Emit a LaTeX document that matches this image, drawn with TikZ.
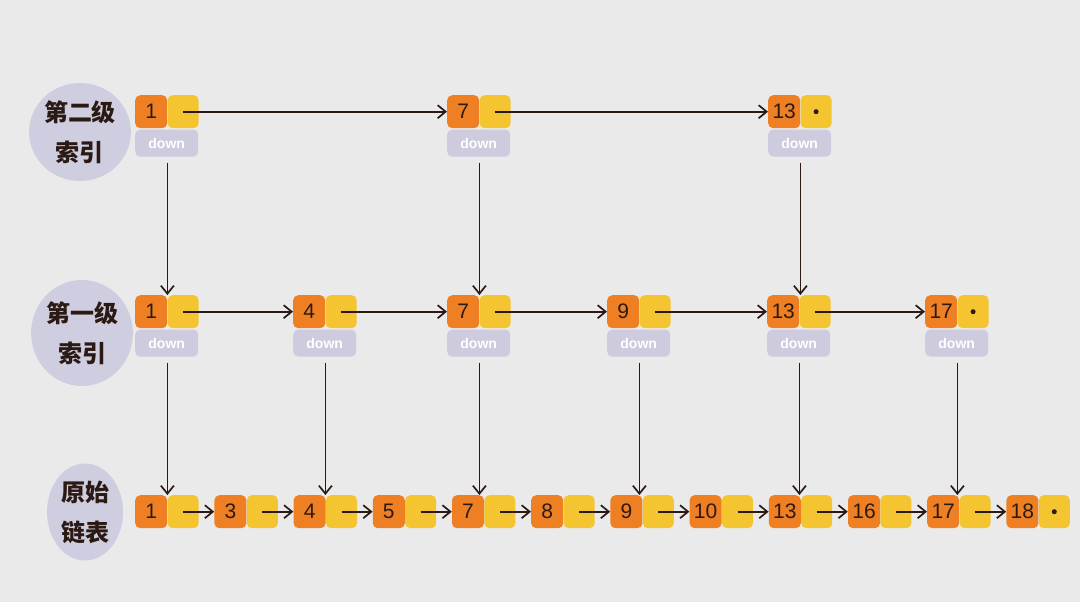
\documentclass[tikz,border=0pt]{standalone}
\usepackage{fontspec}
\setmainfont{Liberation Sans}
\newfontfamily\cjk{Noto Sans CJK SC}
\usetikzlibrary{positioning,shapes.geometric,arrows.meta}
\definecolor{bgc}{HTML}{EAEAEA}
\definecolor{keyc}{HTML}{EE7F22}
\definecolor{ptrc}{HTML}{F4C431}
\definecolor{downc}{HTML}{CDCBDD}
\definecolor{blobc}{HTML}{CFCEE0}
\definecolor{ink}{HTML}{2B1A14}
\tikzset{
  keybox/.style={rectangle,fill=keyc,rounded corners=5pt,minimum width=32pt,minimum height=33pt,
    inner sep=0pt,anchor=north west,text=ink,font=\fontsize{21}{21}\selectfont},
  ptrbox/.style={rectangle,fill=ptrc,rounded corners=5pt,minimum width=31pt,minimum height=33pt,inner sep=0pt},
  downbox/.style={rectangle,fill=downc,rounded corners=5pt,minimum width=63pt,minimum height=27pt,
    inner sep=0pt,anchor=north west,text=white,font=\bfseries\fontsize{14}{14}\selectfont},
  blob/.style={ellipse,fill=blobc,inner sep=0pt,align=center,text=ink,
    font=\cjk\bfseries\fontsize{24}{40}\selectfont},
  link/.style={draw=ink,line width=1.7pt,-{Straight Barb[length=8pt,width=13pt,line width=1.7pt]}}
}
% key box + pointer box
\newcommand{\lnode}[4]{%
  \node[keybox] (#1) at (#2,#3) {#4};
  \node[ptrbox,right=0pt of #1] (#1p) {};
}
% down box under a node
\newcommand{\dnode}[1]{\node[downbox] (#1d) at ([yshift=-1pt]#1.south west) {down};}
% null pointer
\newcommand{\nil}[1]{\fill[ink] (#1p.center) circle (2.5pt);}
\begin{document}
\begin{tikzpicture}[x=1pt,y=-1pt]
  \fill[bgc] (0,0) rectangle (1080,602);
  \useasboundingbox (0,0) rectangle (1080,602);

  % level labels
  \node[blob,minimum width=84pt,minimum height=98pt] (lab2) at (80,132) {第二级\\索引};
  \node[blob,minimum width=86pt,minimum height=106pt] (lab1) at (82,333) {第一级\\索引};
  \node[blob,minimum width=76pt,minimum height=97pt] (lab0) at (85,512) {原始\\链表};

  % second level index
  \lnode{t1}{135}{95}{1}   \dnode{t1}
  \lnode{t7}{447}{95}{7}   \dnode{t7}
  \lnode{t13}{768}{95}{13} \dnode{t13} \nil{t13}

  % first level index
  \foreach \nm/\px/\lb in {m1/135/1,m4/293/4,m7/447/7,m9/607/9,m13/767/13,m17/925/17}
    {\lnode{\nm}{\px}{295}{\lb} \dnode{\nm}}
  \nil{m17}

  % original list
  \foreach \lb [count=\i from 0] in {1,3,4,5,7,8,9,10,13,16,17,18}
    {\lnode{b\lb}{135+79.2*\i}{495}{\lb}}
  \nil{b18}

  % next pointers
  \draw[link] (t1p.center) -- (t7.west);
  \draw[link] (t7p.center) -- (t13.west);
  \foreach \a/\b in {m1/m4,m4/m7,m7/m9,m9/m13,m13/m17}
    {\draw[link] (\a p.center) -- (\b.west);}
  \foreach \a/\b in {1/3,3/4,4/5,5/7,7/8,8/9,9/10,10/13,13/16,16/17,17/18}
    {\draw[link] (b\a p.center) -- (b\b.west);}

  % down pointers
  \foreach \a/\b in {t1/m1,t7/m7,t13/m13}
    {\draw[link] (\a.east |- \a d.south) ++(0,6) -- (\a.east |- \b.north);}
  \foreach \a/\b in {m1/b1,m4/b4,m7/b7,m9/b9,m13/b13,m17/b17}
    {\draw[link] (\a.east |- \a d.south) ++(0,6) -- (\a.east |- \b.north);}
\end{tikzpicture}
\end{document}
